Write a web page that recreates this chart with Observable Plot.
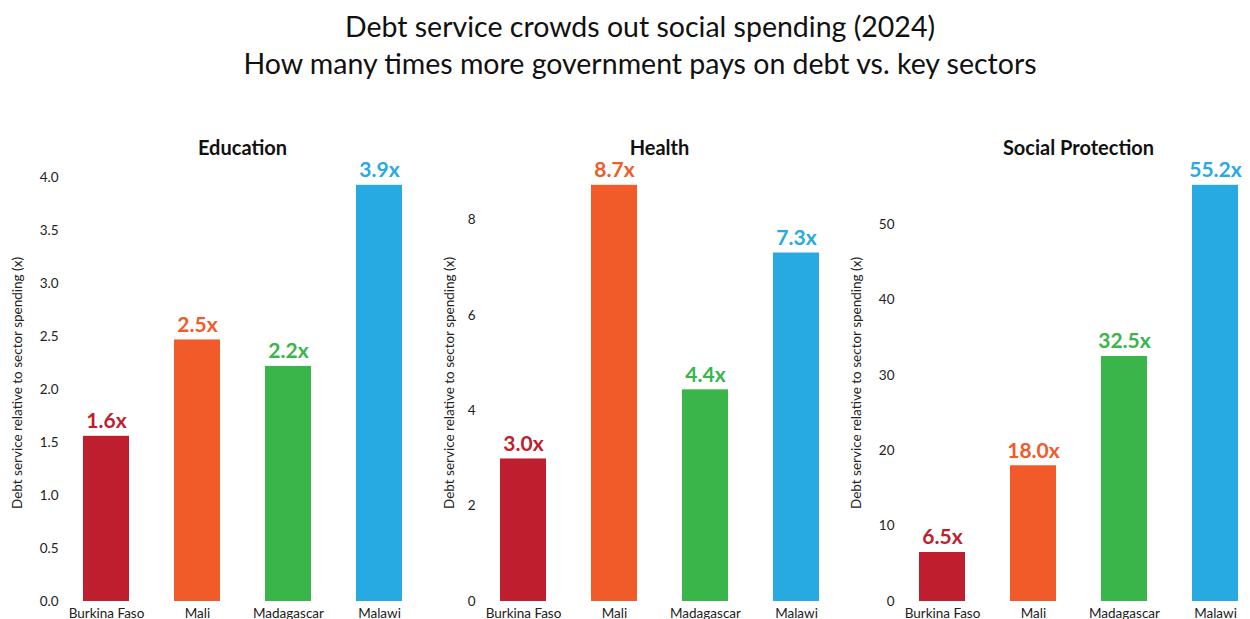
<!DOCTYPE html>
<html>
<head>
<meta charset="utf-8">
<script src="https://cdn.jsdelivr.net/npm/d3@7"></script>
<script src="https://cdn.jsdelivr.net/npm/@observablehq/plot@0.6"></script>
<style>
  html, body { margin: 0; padding: 0; background: #fff; }
  body { width: 1250px; height: 619px; position: relative; overflow: hidden; font-family: Lato, "DejaVu Sans", sans-serif; }
  #title { position: absolute; left: 15px; top: 8px; width: 1250px; text-align: center; font-size: 28.5px; line-height: 37px; color: #111; }
  .panel { position: absolute; top: 110px; width: 417px; height: 509px; }
  .panel svg { overflow: visible; }
  .ptitle { position: absolute; top: 135px; font-size: 20px; font-weight: bold; color: #111; text-align: center; line-height: 24px; }
</style>
</head>
<body>
<div id="title">Debt service crowds out social spending (2024)<br>How many times more government pays on debt vs. key sectors</div>
<div id="charts"></div>
<script>
const countries = ["Burkina Faso", "Mali", "Madagascar", "Malawi"];
const colors = ["#BE1E2D", "#F15A29", "#39B54A", "#27AAE1"];
const sectors = ["Education", "Health", "Social Protection"];
const education = [1.56, 2.47, 2.22, 3.93];
const health = [2.99, 8.73, 4.44, 7.31];
const socialProtection = [6.5, 18.0, 32.5, 55.2];
const educationTicks = [0, 0.5, 1, 1.5, 2, 2.5, 3, 3.5, 4];
const healthTicks = [0, 2, 4, 6, 8];
const socialTicks = [0, 10, 20, 30, 40, 50];
const yLabel = "Debt service relative to sector spending (x)";

const FONT = "Lato, 'DejaVu Sans', sans-serif";
const panels = [
  {name: sectors[0], values: education, ticks: educationTicks, fmt: d3.format(".1f"), left: 0, ml: 74, labelOffset: 62},
  {name: sectors[1], values: health, ticks: healthTicks, fmt: d3.format("d"), left: 417, ml: 74, labelOffset: 47},
  {name: sectors[2], values: socialProtection, ticks: socialTicks, fmt: d3.format("d"), left: 834, ml: 76, labelOffset: 59}
];

const container = document.getElementById("charts");
for (const p of panels) {
  const data = countries.map((c, i) => ({country: c, value: p.values[i]}));
  const W = 417;
  const mr = W - (p.ml + 337);
  const chart = Plot.plot({
    width: W,
    height: 509,
    marginLeft: p.ml,
    marginRight: mr,
    marginTop: 54,
    marginBottom: 18,
    style: {fontFamily: FONT, fontSize: "13.5px", color: "#222", background: "transparent", overflow: "visible"},
    x: {domain: countries, paddingInner: 0.5, paddingOuter: 0.1, label: null},
    y: {domain: [0, d3.max(p.values) * 1.05]},
    color: {domain: countries, range: colors},
    marks: [
      Plot.axisX({tickSize: 0, tickPadding: 7, label: null}),
      Plot.axisY({ticks: p.ticks, tickFormat: p.fmt, tickSize: 0, tickPadding: 16, label: yLabel, labelAnchor: "center", labelOffset: p.labelOffset, labelArrow: "none"}),
      Plot.barY(data, {x: "country", y: "value", fill: "country"}),
      Plot.text(data, {x: "country", y: "value", text: d => d.value.toFixed(1) + "x", fill: "country", dy: -8, lineAnchor: "bottom", fontWeight: "bold", fontSize: 21})
    ]
  });
  const div = document.createElement("div");
  div.className = "panel";
  div.style.left = p.left + "px";
  div.appendChild(chart);
  container.appendChild(div);
  const t = document.createElement("div");
  t.className = "ptitle";
  t.textContent = p.name;
  const cx = p.left + p.ml + 337 / 2;
  t.style.left = (cx - 150) + "px";
  t.style.width = "300px";
  container.appendChild(t);
}
</script>
</body>
</html>
